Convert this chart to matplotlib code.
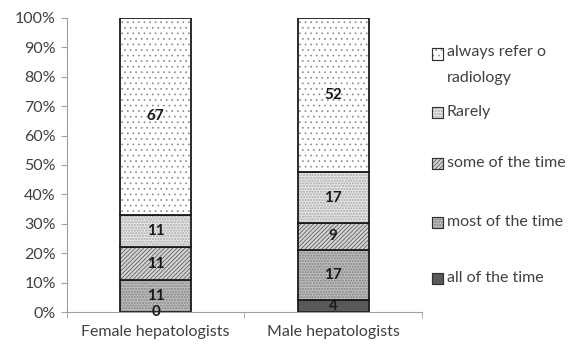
import matplotlib
matplotlib.use("Agg")
import matplotlib.pyplot as plt
import matplotlib.patches as mpatches
import numpy as np

categories = ["Female hepatologists", "Male hepatologists"]
series_names = ["all of the time", "most of the time", "some of the time", "Rarely",
                "always refer o\nradiology"]
all_time = [0, 4]
most_time = [11, 17]
some_time = [11, 9]
rarely = [11, 17]
always_refer = [67, 52]

series = [all_time, most_time, some_time, rarely, always_refer]
faces = ["#595959", "#bcbcbc", "#d4d4d4", "#e4e4e4", "#ffffff"]
hatches = [None, "oooooo", "////////", "oooooo", "..."]
hatch_cols = ["#595959", "#969696", "#4a4a4a", "#bcbcbc", "#8a8a8a"]
legend_px_y = [278, 222, 163, 112, 54]   # legend entry rows (pixels from top), layout only

plt.rcParams["font.family"] = ["Lato", "DejaVu Sans"]
plt.rcParams["hatch.linewidth"] = 0.5

fig = plt.figure(figsize=(5.82, 3.51), dpi=100)
ax = fig.add_axes([0.115, 0.111, 0.61, 0.838])

data = np.array(series, dtype=float)
totals = data.sum(axis=0)
pct = data / totals * 100
x = np.arange(len(categories))
bottom = np.zeros(len(categories))
for i, name in enumerate(series_names):
    ax.bar(x, pct[i], 0.4, bottom=bottom, color=faces[i], edgecolor=hatch_cols[i],
           hatch=hatches[i], linewidth=0, label=name)
    ax.bar(x, pct[i], 0.4, bottom=bottom, fill=False, edgecolor="#1a1a1a", linewidth=1.3)
    for j in range(len(categories)):
        ax.text(x[j], bottom[j] + pct[i][j] / 2, f"{int(data[i][j])}", ha="center",
                va="center", fontsize=11, fontweight="bold", color="#1a1a1a")
    bottom += pct[i]

ax.set_xlim(-0.5, 1.5)
ax.set_ylim(0, 100)
ax.set_yticks(np.arange(0, 101, 10))
ax.set_yticklabels([f"{v}%" for v in range(0, 101, 10)])
ax.set_xticks(x)
ax.set_xticklabels(categories)
ax.set_xticks([-0.5, 0.5, 1.5], minor=True)
ax.tick_params(axis="x", which="major", length=0, pad=9)
ax.tick_params(axis="x", which="minor", length=4, color="#a0a0a0")
ax.tick_params(axis="y", length=4, color="#a0a0a0", pad=4)
ax.tick_params(labelsize=11.5, labelcolor="#404040")
for s in ["top", "right"]:
    ax.spines[s].set_visible(False)
for s in ["left", "bottom"]:
    ax.spines[s].set_color("#a0a0a0")

# legend, drawn entry by entry (top series first in position)
sw = 11 / 582
sh = 11 / 351
for i, name in enumerate(series_names):
    yc = 1 - legend_px_y[i] / 351
    fig.add_artist(mpatches.Rectangle((432 / 582, yc - sh / 2), sw, sh,
                                      transform=fig.transFigure, facecolor=faces[i],
                                      edgecolor=hatch_cols[i] if hatches[i] else "#404040",
                                      hatch=hatches[i], linewidth=0.8))
    fig.add_artist(mpatches.Rectangle((432 / 582, yc - sh / 2), sw, sh,
                                      transform=fig.transFigure, fill=False,
                                      edgecolor="#303030", linewidth=0.8))
    if "\n" in name:
        fig.text(447 / 582, yc + 9 / 351, name, ha="left", va="top",
                 fontsize=11.5, color="#404040", linespacing=2.1)
    else:
        fig.text(447 / 582, yc, name, ha="left", va="center",
                 fontsize=11.5, color="#404040")

fig.savefig("out.png", dpi=100)
